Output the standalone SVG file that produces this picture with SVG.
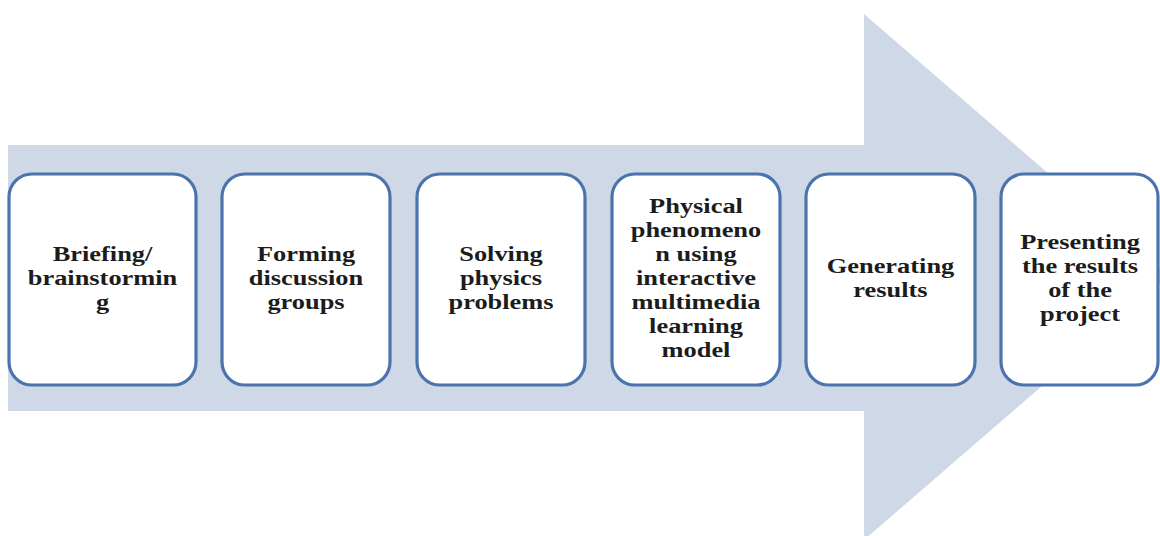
<svg xmlns="http://www.w3.org/2000/svg" width="1160" height="536" viewBox="0 0 1160 536">
<style>
.box{fill:#ffffff;stroke:#4a74ab;stroke-width:3.2}
.t{font-family:"Liberation Serif","Times New Roman",serif;font-weight:bold;font-size:22px;fill:#1c1c1c;text-anchor:middle}
</style>
<rect width="1160" height="536" fill="#ffffff"/>
<g id="arrow">
<polygon points="8,145 864,145 864,14 1168,277 864,540 864,411 8,411" fill="#cfd8e7"/>
</g>
<g id="connectors"></g>
<g id="n1">
<rect class="box" x="9" y="174" width="187" height="211" rx="23"/>
<g transform="translate(102.5,0) scale(1.2,1)">
<text class="t" x="0" y="261">Briefing/</text>
<text class="t" x="0" y="285">brainstormin</text>
<text class="t" x="0" y="309">g</text>
</g>
</g>
<g id="n2">
<rect class="box" x="222" y="174" width="168" height="211" rx="23"/>
<g transform="translate(306,0) scale(1.2,1)">
<text class="t" x="0" y="261">Forming</text>
<text class="t" x="0" y="285">discussion</text>
<text class="t" x="0" y="309">groups</text>
</g>
</g>
<g id="n3">
<rect class="box" x="417" y="174" width="168" height="211" rx="23"/>
<g transform="translate(501,0) scale(1.2,1)">
<text class="t" x="0" y="261">Solving</text>
<text class="t" x="0" y="285">physics</text>
<text class="t" x="0" y="309">problems</text>
</g>
</g>
<g id="n4">
<rect class="box" x="612" y="174" width="168" height="211" rx="23"/>
<g transform="translate(696,0) scale(1.2,1)">
<text class="t" x="0" y="213">Physical</text>
<text class="t" x="0" y="237">phenomeno</text>
<text class="t" x="0" y="261">n using</text>
<text class="t" x="0" y="285">interactive</text>
<text class="t" x="0" y="309">multimedia</text>
<text class="t" x="0" y="333">learning</text>
<text class="t" x="0" y="357">model</text>
</g>
</g>
<g id="n5">
<rect class="box" x="806" y="174" width="169" height="211" rx="23"/>
<g transform="translate(890.5,0) scale(1.2,1)">
<text class="t" x="0" y="273">Generating</text>
<text class="t" x="0" y="297">results</text>
</g>
</g>
<g id="n6">
<rect class="box" x="1001" y="174" width="157" height="211" rx="23"/>
<g transform="translate(1080,0) scale(1.2,1)">
<text class="t" x="0" y="249">Presenting</text>
<text class="t" x="0" y="273">the results</text>
<text class="t" x="0" y="297">of the</text>
<text class="t" x="0" y="321">project</text>
</g>
</g>
</svg>
